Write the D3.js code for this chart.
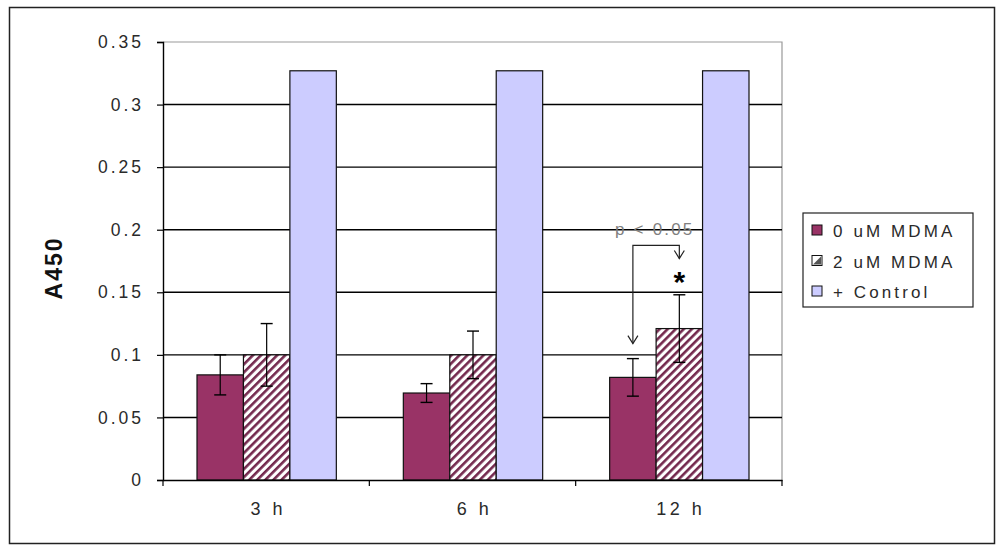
<!DOCTYPE html>
<html><head><meta charset="utf-8">
<script src="https://cdn.jsdelivr.net/npm/d3@7"></script>
<style>body{margin:0;background:#fff}svg{display:block}text{font-family:Arial,"Liberation Sans",sans-serif}</style>
</head><body><svg id="c" width="1000" height="555"></svg>
<script>
const categories = ["3 h", "6 h", "12 h"];
const seriesNames = ["0 uM MDMA", "2 uM MDMA", "+ Control"];
const mdma0 = [0.084, 0.0695, 0.082];
const mdma0Err = [0.016, 0.0075, 0.015];
const mdma2 = [0.1, 0.1, 0.121];
const mdma2Err = [0.025, 0.019, 0.027];
const control = [0.327, 0.327, 0.327];
const yTicks = [0, 0.05, 0.1, 0.15, 0.2, 0.25, 0.3, 0.35];
const yTickLabels = ["0", "0.05", "0.1", "0.15", "0.2", "0.25", "0.3", "0.35"];

const svg = d3.select("#c");
const L = 163, R = 782, T = 42, B = 480;
svg.append("rect").attr("x", 9.5).attr("y", 7.5).attr("width", 985).attr("height", 536)
  .attr("fill", "#fff").attr("stroke", "#222").attr("stroke-width", 1.5);

const defs = svg.append("defs");
const pat = defs.append("pattern").attr("id", "hatch").attr("patternUnits", "userSpaceOnUse")
  .attr("width", 5.7).attr("height", 10).attr("patternTransform", "rotate(45)");
pat.append("rect").attr("width", 5.7).attr("height", 10).attr("fill", "#fff");
pat.append("rect").attr("x", 0).attr("y", 0).attr("width", 2.6).attr("height", 10).attr("fill", "#74294e");

const y = d3.scaleLinear().domain([0, 0.35]).range([B, T]);
const x0 = d3.scaleBand().domain(categories).range([L, R]).paddingInner(0).paddingOuter(0);
const x1 = d3.scaleBand().domain(seriesNames).range([34, x0.bandwidth() - 33]).padding(0);

svg.append("path").attr("d", `M${L},${T}H${R}V${B}`).attr("fill", "none").attr("stroke", "#999").attr("stroke-width", 1.2);
svg.append("g").selectAll("line").data(yTicks.filter(v => v > 0 && v < 0.35)).join("line")
  .attr("x1", L).attr("x2", R).attr("y1", d => y(d)).attr("y2", d => y(d))
  .attr("stroke", "#000").attr("stroke-width", 1.4);

const rows = categories.map((c, i) => ({c, vals: [
  {s: seriesNames[0], v: mdma0[i], e: mdma0Err[i], fill: "#993366"},
  {s: seriesNames[1], v: mdma2[i], e: mdma2Err[i], fill: "url(#hatch)"},
  {s: seriesNames[2], v: control[i], e: null, fill: "#CCCCFF"}]}));

const g = svg.append("g").selectAll("g").data(rows).join("g")
  .attr("transform", d => `translate(${x0(d.c)},0)`);
g.selectAll("rect").data(d => d.vals).join("rect")
  .attr("x", d => x1(d.s)).attr("width", x1.bandwidth())
  .attr("y", d => y(d.v)).attr("height", d => B - y(d.v))
  .attr("fill", d => d.fill).attr("stroke", "#111").attr("stroke-width", 1.2);
const eb = g.selectAll("g.err").data(d => d.vals.filter(v => v.e !== null)).join("g").attr("class", "err");
eb.append("line").attr("x1", d => x1(d.s) + x1.bandwidth() / 2).attr("x2", d => x1(d.s) + x1.bandwidth() / 2)
  .attr("y1", d => y(d.v + d.e)).attr("y2", d => y(d.v - d.e)).attr("stroke", "#000").attr("stroke-width", 1.2);
[1, -1].forEach(sgn => {
  eb.append("line").attr("x1", d => x1(d.s) + x1.bandwidth() / 2 - 6).attr("x2", d => x1(d.s) + x1.bandwidth() / 2 + 6)
    .attr("y1", d => y(d.v + sgn * d.e)).attr("y2", d => y(d.v + sgn * d.e)).attr("stroke", "#000").attr("stroke-width", 1.4);
});

const yAxis = svg.append("g").attr("transform", `translate(${L},0)`)
  .call(d3.axisLeft(y).tickValues(yTicks).tickFormat((d, i) => yTickLabels[i]).tickSize(6).tickPadding(13));
yAxis.select(".domain").attr("stroke", "#000").attr("stroke-width", 1.4);
yAxis.selectAll(".tick line").attr("stroke", "#000").attr("stroke-width", 1.2);
yAxis.selectAll("text").attr("font-size", 17.5).attr("fill", "#2a2a2a").attr("letter-spacing", 3);

const xAxis = svg.append("g").attr("transform", `translate(0,${B})`)
  .call(d3.axisBottom(x0).tickSize(0).tickPadding(22));
xAxis.select(".domain").attr("stroke", "#000").attr("stroke-width", 1.4);
xAxis.selectAll("text").attr("font-size", 18).attr("fill", "#2a2a2a").attr("letter-spacing", 3.5).attr("dx", 2);
const bounds = categories.map(c => x0(c)).concat([R]);
svg.append("g").selectAll("line").data(bounds).join("line")
  .attr("x1", d => d).attr("x2", d => d).attr("y1", B).attr("y2", B + 6).attr("stroke", "#000").attr("stroke-width", 1.2);

svg.append("text").attr("transform", `translate(62,268) rotate(-90)`)
  .attr("text-anchor", "middle").attr("font-size", 23).attr("font-weight", "bold").attr("fill", "#111")
  .attr("letter-spacing", 2).text("A450");

const cx12 = x0("12 h");
const xa = cx12 + x1(seriesNames[0]) + x1.bandwidth() / 2;
const xb = cx12 + x1(seriesNames[1]) + x1.bandwidth() / 2;
const yBr = y(0.1875);
const ann = svg.append("g").attr("stroke", "#222").attr("stroke-width", 1.2).attr("fill", "none");
ann.append("path").attr("d", `M${xa},${y(0.109)}V${yBr}H${xb}V${y(0.177)}`);
ann.append("path").attr("d", `M${xa - 5},${y(0.109) - 8}L${xa},${y(0.109)}L${xa + 5},${y(0.109) - 8}`);
ann.append("path").attr("d", `M${xb - 5},${y(0.177) - 8}L${xb},${y(0.177)}L${xb + 5},${y(0.177) - 8}`);
svg.append("text").attr("x", xb).attr("y", 292).attr("text-anchor", "middle").attr("font-size", 30)
  .attr("font-weight", "bold").attr("fill", "#000").text("*");
svg.append("text").attr("x", 615).attr("y", 235).attr("text-anchor", "start")
  .attr("font-size", 17).attr("fill", "#808080").attr("letter-spacing", 2.2).text("p < 0.05");

const lg = svg.append("g").attr("transform", "translate(803,213)");
lg.append("rect").attr("width", 170).attr("height", 94).attr("fill", "#fff").attr("stroke", "#222").attr("stroke-width", 1.2);
const fills = ["#993366", "url(#hatch)", "#CCCCFF"];
const li = lg.selectAll("g").data(seriesNames).join("g").attr("transform", (d, i) => `translate(9,${17 + i * 30.5})`);
li.append("rect").attr("x", 0).attr("y", -5).attr("width", 10).attr("height", 10)
  .attr("fill", (d, i) => i === 1 ? "#fff" : fills[i]).attr("stroke", "#111").attr("stroke-width", 1);
li.filter((d, i) => i === 1).append("path").attr("d", "M1,4L9,-4V4Z").attr("fill", "#555");
li.append("text").attr("x", 21).attr("y", 7).attr("font-size", 17).attr("fill", "#2a2a2a").attr("letter-spacing", 3.1).text(d => d);
</script></body></html>
